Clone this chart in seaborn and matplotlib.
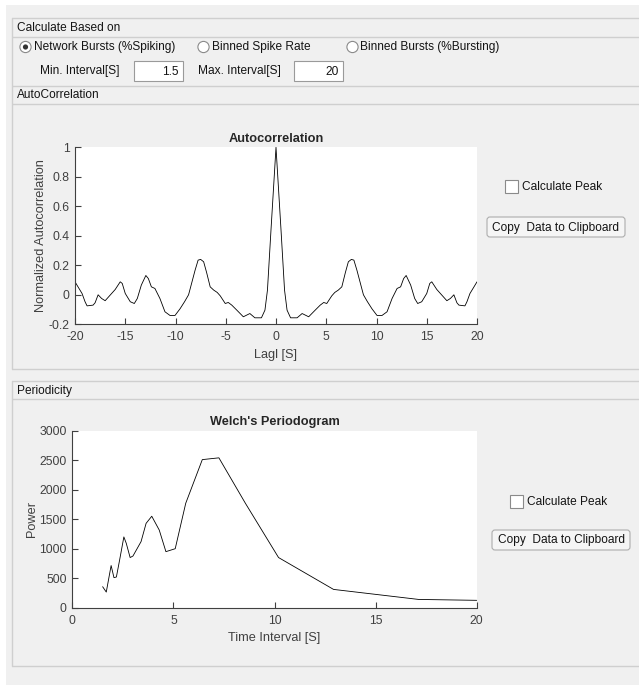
import numpy as np
import pandas as pd
import matplotlib
matplotlib.use("Agg")
import matplotlib.pyplot as plt
from matplotlib.patches import Rectangle, Circle, FancyBboxPatch
import seaborn as sns

# ---- data -------------------------------------------------------------
lag_neg = [-20, -19.7, -19.3, -19.0, -18.8, -18.2, -18.0, -17.7, -17.35, -17.0,
           -16.5, -16.0, -15.5, -15.3, -15.0, -14.5, -14.1, -13.8, -13.4, -12.95,
           -12.7, -12.4, -12.05, -11.55, -11.05, -10.55, -10.05, -9.55, -9.1, -8.7,
           -8.4, -8.05, -7.75, -7.5, -7.2, -6.9, -6.55, -6.2, -5.85, -5.55,
           -5.05, -4.75, -4.4, -3.9, -3.25, -2.6, -2.1, -1.45, -1.1, -0.85,
           -0.5, 0]
acf_neg = [0.088, 0.054, 0.009, -0.047, -0.075, -0.07, -0.054, 0.0, -0.025, -0.04,
           -0.002, 0.036, 0.088, 0.077, 0.009, -0.047, -0.059, -0.025, 0.066, 0.131,
           0.11, 0.054, 0.043, -0.025, -0.115, -0.14, -0.14, -0.095, -0.047, 0.0,
           0.077, 0.167, 0.235, 0.24, 0.224, 0.15, 0.054, 0.032, 0.016, -0.007,
           -0.059, -0.052, -0.07, -0.104, -0.149, -0.127, -0.156, -0.156, -0.104, 0.032,
           0.438, 1.0]
lag_pos = [0.5, 0.85, 1.1, 1.45, 2.1, 2.6, 3.25, 3.9, 4.4, 4.75,
           5.05, 5.55, 5.85, 6.2, 6.55, 6.9, 7.2, 7.5, 7.75, 8.05,
           8.4, 8.7, 9.1, 9.55, 10.05, 10.55, 11.05, 11.55, 12.05, 12.4,
           12.7, 12.95, 13.4, 13.8, 14.1, 14.5, 15.0, 15.3, 15.5, 16.0,
           16.5, 17.0, 17.35, 17.7, 18.0, 18.2, 18.8, 19.0, 19.3, 19.7, 20]
acf_pos = [0.438, 0.032, -0.104, -0.156, -0.156, -0.127, -0.149, -0.104, -0.07, -0.052,
           -0.059, -0.007, 0.016, 0.032, 0.054, 0.15, 0.224, 0.24, 0.235, 0.167,
           0.077, 0.0, -0.047, -0.095, -0.14, -0.14, -0.115, -0.025, 0.043, 0.054,
           0.11, 0.131, 0.066, -0.025, -0.059, -0.047, 0.009, 0.077, 0.088, 0.036,
           -0.002, -0.04, -0.025, 0.0, -0.054, -0.07, -0.075, -0.047, 0.009, 0.054, 0.088]

period = [1.5, 1.68, 1.92, 2.06, 2.18, 2.34, 2.55, 2.67, 2.86, 3.0,
          3.4, 3.65, 3.93, 4.3, 4.63, 5.09, 5.61, 6.43, 7.25, 8.56,
          10.2, 12.92, 17.13, 20.0]
power = [356, 265, 715, 510, 520, 808, 1200, 1090, 850, 876,
         1120, 1430, 1550, 1316, 950, 1000, 1770, 2510, 2540, 1770,
         850, 310, 140, 125]

acf_ticks_x = [-20, -15, -10, -5, 0, 5, 10, 15, 20]
acf_ticks_y = [-0.2, 0, 0.2, 0.4, 0.6, 0.8, 1]
acf_tick_labels_y = ["-0.2", "0", "0.2", "0.4", "0.6", "0.8", "1"]
welch_ticks_x = [0, 5, 10, 15, 20]
welch_ticks_y = [0, 500, 1000, 1500, 2000, 2500, 3000]

# ---- style ------------------------------------------------------------
sns.set_style("ticks")
plt.rcParams["font.family"] = ["Liberation Sans", "DejaVu Sans"]
plt.rcParams["axes.unicode_minus"] = False

W, H = 639, 685
BG = "#f0f0f0"
EDGE = "#cfcfcf"
TXT = "#141414"
AX = "#404040"
FS = 8.6        # window controls
TICK_FS = 8.8
LAB_FS = 9.2

fig = plt.figure(figsize=(W / 100, H / 100), dpi=100, facecolor=BG)

# overlay in pixel coordinates for the window chrome
ui = fig.add_axes([0, 0, 1, 1], zorder=0)
ui.set_xlim(0, W)
ui.set_ylim(H, 0)
ui.axis("off")

ui.add_patch(Rectangle((0, 0), W, 5, fc="white", ec="none"))
ui.add_patch(Rectangle((0, 0), 6, H, fc="white", ec="none"))

# panel frames
for y in [18, 37, 86, 104, 369, 381, 399, 666]:
    ui.plot([12, W], [y, y], color=EDGE, lw=1.0, solid_capstyle="butt")
ui.plot([12, 12], [18, 369], color=EDGE, lw=1.0)
ui.plot([12, 12], [381, 666], color=EDGE, lw=1.0)

ui.text(17, 28, "Calculate Based on", fontsize=FS, color=TXT, va="center")
ui.text(17, 95, "AutoCorrelation", fontsize=FS, color=TXT, va="center")
ui.text(17, 390.5, "Periodicity", fontsize=FS, color=TXT, va="center")

# radio buttons
radios = [(25.5, "Network Bursts (%Spiking)", True),
          (203.5, "Binned Spike Rate", False),
          (352.5, "Binned Bursts (%Bursting)", False)]
for rx, label, on in radios:
    ui.add_patch(Circle((rx, 47), 5.6, fc="white", ec="#8a8a8a", lw=0.8))
    if on:
        ui.add_patch(Circle((rx, 47), 2.6, fc="#333333", ec="none"))
    ui.text(rx + 8, 47, label, fontsize=FS, color=TXT, va="center")

# interval edit fields
ui.text(40, 71, "Min. Interval[S]", fontsize=FS, color=TXT, va="center")
ui.add_patch(Rectangle((134, 61), 49, 20, fc="white", ec="#9a9a9a", lw=0.8))
ui.text(179, 71.5, "1.5", fontsize=FS, color=TXT, va="center", ha="right")
ui.text(198, 71, "Max. Interval[S]", fontsize=FS, color=TXT, va="center")
ui.add_patch(Rectangle((294, 61), 49, 20, fc="white", ec="#9a9a9a", lw=0.8))
ui.text(339, 71.5, "20", fontsize=FS, color=TXT, va="center", ha="right")


def side_controls(cx, cy, bx, by):
    ui.add_patch(Rectangle((cx, cy - 6.5), 13, 13, fc="white", ec="#8a8a8a", lw=0.8))
    ui.text(cx + 17, cy, "Calculate Peak", fontsize=FS, color=TXT, va="center")
    ui.add_patch(FancyBboxPatch((bx, by), 138, 20,
                                boxstyle="round,pad=0,rounding_size=3",
                                fc="#f5f5f5", ec="#adadad", lw=0.8))
    ui.text(bx + 69, by + 10.5, "Copy  Data to Clipboard", fontsize=FS,
            color=TXT, va="center", ha="center")


side_controls(505, 186.5, 487, 217)
side_controls(510, 501.5, 492, 530)


def px_axes(x0, y0, x1, y1):
    return fig.add_axes([x0 / W, 1 - y1 / H, (x1 - x0) / W, (y1 - y0) / H], zorder=2)


def style_axes(ax):
    ax.set_facecolor("white")
    sns.despine(ax=ax)
    for s in ("left", "bottom"):
        ax.spines[s].set_color(AX)
        ax.spines[s].set_linewidth(0.8)
    ax.tick_params(direction="in", length=4, width=0.8, colors=AX,
                   labelsize=TICK_FS)
    ax.tick_params(axis="x", pad=5)
    ax.tick_params(axis="y", pad=4)


# ---- autocorrelation --------------------------------------------------
acf_df = pd.DataFrame({"lag": lag_neg + lag_pos, "acf": acf_neg + acf_pos})
ax1 = px_axes(75, 147.3, 477, 324.3)
sns.lineplot(data=acf_df, x="lag", y="acf", ax=ax1, color="black", linewidth=0.6)
ax1.set_xlim(-20, 20)
ax1.set_ylim(-0.2, 1)
ax1.set_xticks(acf_ticks_x)
ax1.set_yticks(acf_ticks_y)
ax1.set_yticklabels(acf_tick_labels_y)
style_axes(ax1)
ax1.set_title("Autocorrelation", fontsize=LAB_FS, fontweight="bold", color="#262626", pad=4)
ax1.set_xlabel("Lagl [S]", fontsize=LAB_FS, color=AX, labelpad=4)
ax1.set_ylabel("Normalized Autocorrelation", fontsize=LAB_FS, color=AX, labelpad=1)

# ---- Welch periodogram ------------------------------------------------
welch_df = pd.DataFrame({"period": period, "power": power})
ax2 = px_axes(72.3, 430.7, 476.7, 607.7)
sns.lineplot(data=welch_df, x="period", y="power", ax=ax2, color="black", linewidth=0.6)
ax2.set_xlim(0, 20)
ax2.set_ylim(0, 3000)
ax2.set_xticks(welch_ticks_x)
ax2.set_yticks(welch_ticks_y)
style_axes(ax2)
ax2.set_title("Welch's Periodogram", fontsize=LAB_FS, fontweight="bold", color="#262626", pad=4)
ax2.set_xlabel("Time Interval [S]", fontsize=LAB_FS, color=AX, labelpad=4)
ax2.set_ylabel("Power", fontsize=LAB_FS, color=AX, labelpad=1)

fig.savefig("out.png", dpi=100, facecolor=BG)
